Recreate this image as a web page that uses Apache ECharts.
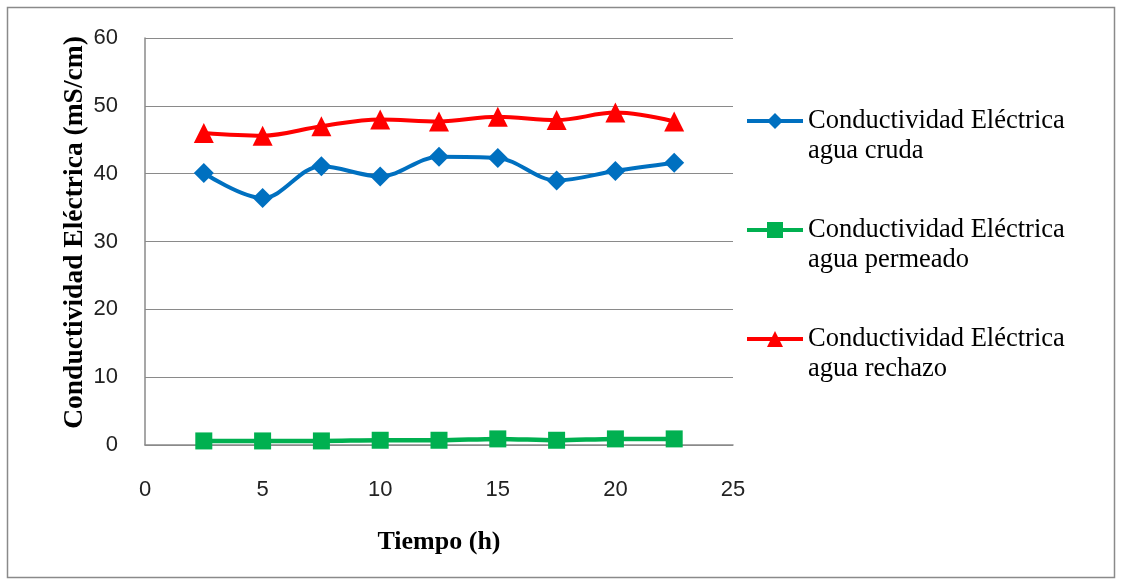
<!DOCTYPE html>
<html>
<head>
<meta charset="utf-8">
<script src="https://cdn.jsdelivr.net/npm/echarts@6/dist/echarts.min.js"></script>
<style>
  html, body { margin: 0; padding: 0; background: #fff; }
  #chart { width: 1123px; height: 581px; }
</style>
</head>
<body>
<div id="chart"></div>
<script>
// datos
const tiempo = [2.5, 5, 7.5, 10, 12.5, 15, 17.5, 20, 22.5]
const aguaCruda = [40.1, 36.4, 41.1, 39.6, 42.5, 42.3, 39.0, 40.4, 41.6]
const aguaPermeado = [0.6, 0.6, 0.6, 0.7, 0.7, 0.9, 0.7, 0.9, 0.9]
const aguaRechazo = [46.0, 45.6, 47.0, 48.0, 47.7, 48.4, 47.9, 49.0, 47.7]
const nombres = [
  'Conductividad Eléctrica agua cruda',
  'Conductividad Eléctrica agua permeado',
  'Conductividad Eléctrica agua rechazo'
]

const pares = (ys) => tiempo.map((t, i) => [t, ys[i]])

const serif = 'Liberation Serif, Times New Roman, serif'
const sans = 'Liberation Sans, Arial, sans-serif'

const chart = echarts.init(document.getElementById('chart'), null, { renderer: 'canvas' })

const option = {
  animation: false,
  graphic: [
    {
      type: 'rect',
      shape: { x: 7.5, y: 7.5, width: 1107, height: 570 },
      style: { fill: 'none', stroke: '#8a8a8a', lineWidth: 1.5 },
      silent: true
    }
  ],
  grid: { left: 145, right: 390, top: 38, bottom: 136 },
  legend: {
    orient: 'vertical',
    left: 745,
    top: 76,
    padding: 0,
    itemWidth: 56,
    itemHeight: 20,
    itemGap: 19,
    data: nombres,
    lineStyle: { width: 4 },
    formatter: (name) => {
      const partes = name.split(' agua ')
      return '\n' + partes[0] + '\nagua ' + partes[1]
    },
    textStyle: {
      fontFamily: serif,
      fontSize: 26.5,
      lineHeight: 30,
      color: '#000'
    }
  },
  xAxis: {
    type: 'value',
    min: 0,
    max: 25,
    interval: 5,
    name: 'Tiempo (h)',
    nameLocation: 'middle',
    nameGap: 84,
    nameMoveOverlap: false,
    nameTextStyle: { fontFamily: serif, fontSize: 26, fontWeight: 'bold', color: '#000' },
    axisLine: { show: true, lineStyle: { color: '#8a8a8a', width: 1.5 } },
    axisTick: { show: false },
    splitLine: { show: false },
    axisLabel: { fontFamily: sans, fontSize: 22, color: '#222', margin: 34 }
  },
  yAxis: {
    type: 'value',
    min: 0,
    max: 60,
    interval: 10,
    name: 'Conductividad Eléctrica (mS/cm)',
    nameLocation: 'middle',
    nameRotate: 90,
    nameGap: 56,
    nameMoveOverlap: false,
    nameTextStyle: {
      fontFamily: serif,
      fontSize: 27.5,
      fontWeight: 'bold',
      color: '#000',
      padding: [0, 0, 0, 18]
    },
    axisLine: { show: true, lineStyle: { color: '#8a8a8a', width: 1.5 } },
    axisTick: { show: false },
    splitLine: { show: true, lineStyle: { color: '#8a8a8a', width: 1.2 } },
    axisLabel: { fontFamily: sans, fontSize: 22, color: '#222', margin: 27 }
  },
  series: [
    {
      name: nombres[0],
      type: 'line',
      smooth: 0.35,
      data: pares(aguaCruda),
      symbol: 'diamond',
      symbolSize: 20,
      lineStyle: { color: '#0070C0', width: 4 },
      itemStyle: { color: '#0070C0' }
    },
    {
      name: nombres[1],
      type: 'line',
      smooth: 0.35,
      data: pares(aguaPermeado),
      symbol: 'rect',
      symbolSize: 17,
      lineStyle: { color: '#00B050', width: 4.5 },
      itemStyle: { color: '#00B050' }
    },
    {
      name: nombres[2],
      type: 'line',
      smooth: 0.35,
      data: pares(aguaRechazo),
      symbol: 'triangle',
      symbolSize: 20,
      lineStyle: { color: '#FF0000', width: 4 },
      itemStyle: { color: '#FF0000' }
    }
  ]
}

chart.setOption(option)
window.addEventListener('resize', () => chart.resize())
</script>
</body>
</html>
